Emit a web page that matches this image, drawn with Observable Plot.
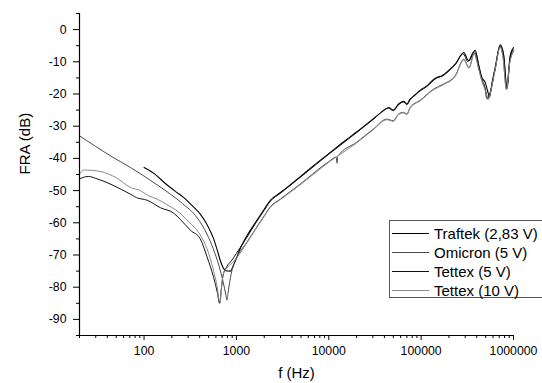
<!DOCTYPE html>
<html>
<head>
<meta charset="utf-8">
<script src="https://cdn.jsdelivr.net/npm/d3@7"></script>
<script src="https://cdn.jsdelivr.net/npm/@observablehq/plot@0.6"></script>
<style>
  html, body { margin: 0; padding: 0; background: #fff; }
  #wrap { position: relative; width: 542px; height: 383px; overflow: hidden; }
  #legend { position: absolute; left: 389px; top: 220px; width: 160px; height: 78px;
    border: 1px solid #555; background: #fff; box-sizing: border-box;
    font-family: "Liberation Sans", Arial, sans-serif; font-size: 15px; color: #000; }
  .row { position: absolute; left: 0; height: 19px; display: flex; align-items: center; white-space: nowrap; }
  .sw { width: 37px; height: 0; margin-left: 2px; margin-right: 5px; border-top: 1px solid #000; }
</style>
</head>
<body>
<div id="wrap"><div id="legend"></div></div>
<script>
// ---- data (frequency in Hz, FRA in dB) ----
const seriesNames = ["Traftek (2,83 V)", "Omicron (5 V)", "Tettex (5 V)", "Tettex (10 V)"];

const traftek = [
  [100,-42.8],[130,-44.8],[170,-47.8],[220,-50.3],[268,-52.1],[330,-54.6],[406,-57.3],[480,-60.5],
  [567,-65],[620,-68.5],[670,-71.8],[720,-74],[760,-74.9],[860,-75],[920,-73.5],[975,-71.8],
  [1100,-68],[1300,-64],[1600,-60],[2000,-55.8],[2330,-53],[3000,-50.6],[5000,-45.5],[7000,-42],
  [10000,-38.5],[15000,-34.5],[20000,-31.8],[30000,-27.8],[40000,-25],[44400,-24.2],[50000,-25],
  [57000,-23.1],[64500,-22.3],[70000,-23.1],[76000,-21.6],[86000,-20.3],[98000,-18.8],[115000,-17.5],
  [130000,-16],[148000,-14.9],[168000,-14.3],[206000,-12.3],[234000,-10.7],[290000,-7.1],[327000,-9.7],
  [385000,-6.4],[420000,-11],[455000,-14.9],[494000,-16.4],[524000,-19],[550000,-20.9],[590000,-16],
  [634000,-11.8],[718000,-4.7],[780000,-7.6],[849000,-18],[921000,-8.1],[1000000,-5.6]
];

const omicron = [
  [20,-33],[30,-36.3],[45,-39.5],[71,-42.8],[100,-45.5],[140,-48.3],[193,-51.1],[260,-54],
  [375,-58.4],[480,-63.5],[560,-68],[650,-73.5],[720,-78.5],[770,-82.5],[790,-84],[810,-82],
  [850,-78],[900,-74.5],[1000,-71],[1300,-66],[1600,-62],[2000,-57.8],[2330,-55],[3000,-52.6],
  [5000,-47.8],[10000,-41],[12000,-39.6],[12300,-41.5],[12500,-39.4],[20000,-35],[30000,-31],
  [42600,-27.8],[50000,-28.3],[57000,-26.2],[64500,-25.7],[70000,-26.2],[76000,-24.2],[98000,-21.9],
  [136000,-18.5],[175000,-16.9],[234000,-14.3],[290000,-9.2],[330000,-11.8],[375000,-7.3],
  [420000,-12],[455000,-15.8],[500000,-19],[530000,-21.5],[560000,-19.5],[634000,-12.2],
  [718000,-5.2],[770000,-8.5],[840000,-18.5],[900000,-11],[1000000,-6.6]
];

const tettex5 = [
  [20,-46.4],[22,-45.9],[25,-45.6],[30,-46.2],[45,-48.2],[71,-51.1],[87,-52.4],[95,-52.6],
  [108,-53],[150,-55.3],[209,-57],[248,-59],[317,-62.3],[406,-65],[480,-70.5],[567,-77],
  [620,-81.5],[658,-85],[690,-80],[715,-76.5],[780,-73.8],[900,-71.5],[1000,-69.5],[1300,-64.5],
  [1600,-60.3],[2000,-56.1],[2330,-53.3],[3000,-50.8],[5000,-45.7],[10000,-38.7],[20000,-32],
  [30000,-28],[44400,-24.4],[50000,-25.2],[57000,-23.3],[64500,-22.5],[70000,-23.3],[76000,-21.8],
  [98000,-19],[115000,-17.7],[148000,-15],[168000,-14.5],[206000,-12.5],[234000,-10.9],
  [285000,-7.5],[320000,-9.9],[375000,-6.8],[455000,-15.5],[490000,-17.8],[515000,-21.5],
  [545000,-20.5],[634000,-12],[718000,-5],[780000,-7.8],[849000,-18.3],[921000,-8.5],[1000000,-6.3]
];

const tettex10 = [
  [20,-44.9],[22.5,-43.6],[27,-43.7],[34,-44.1],[50,-46],[71,-49],[91,-50],[110,-51.5],
  [138,-52.6],[180,-54.5],[228,-56.3],[300,-59.5],[406,-63.8],[480,-68],[567,-75],[620,-80],
  [650,-84],[665,-84.5],[690,-80],[720,-76],[790,-74],[900,-72.5],[1000,-71],[1300,-66.2],
  [1600,-62.2],[2000,-58],[2330,-55.2],[3000,-52.8],[5000,-48],[10000,-41.2],[20000,-35.2],
  [30000,-31.2],[42600,-28],[50000,-28.5],[57000,-26.4],[64500,-25.9],[70000,-26.4],[76000,-24.4],
  [98000,-22.1],[136000,-18.7],[175000,-17.1],[234000,-14.5],[290000,-9.4],[330000,-12],
  [375000,-7.5],[420000,-12.3],[455000,-16],[500000,-19.3],[530000,-21.8],[560000,-19.8],
  [634000,-12.4],[718000,-5.4],[770000,-8.7],[840000,-18.7],[900000,-11.3],[1000000,-6.8]
];

const xMajorTicks = [100, 1000, 10000, 100000, 1000000];
const yMajorTicks = [-90, -80, -70, -60, -50, -40, -30, -20, -10, 0];

// ---- derived tick lists ----
const xMinorTicks = [];
for (let e = 1; e <= 5; e++) for (let m = 2; m <= 9; m++) {
  const v = m * Math.pow(10, e);
  if (v >= 20 && v <= 1e6) xMinorTicks.push(v);
}
const yMinorTicks = d3.range(-95, 6, 10);

const series = [
  {data: traftek, color: "#000000", width: 1.1},
  {data: omicron, color: "#4a4a4a", width: 1},
  {data: tettex5, color: "#111111", width: 1},
  {data: tettex10, color: "#8a8a8a", width: 1}
];

const chart = Plot.plot({
  width: 542,
  height: 383,
  marginLeft: 79,
  marginRight: 29,
  marginTop: 13,
  marginBottom: 48,
  style: {fontFamily: "'Liberation Sans', Arial, sans-serif", fontSize: "12.3px", color: "#000", background: "#fff", overflow: "visible"},
  x: {type: "log", domain: [20, 1e6]},
  y: {domain: [-95, 5]},
  marks: [
    ...series.map(s => Plot.line(s.data, {x: d => d[0], y: d => d[1], stroke: s.color, strokeWidth: s.width, curve: "monotone-x"})),
    Plot.ruleX([20], {stroke: "#000", strokeWidth: 1.2}),
    Plot.ruleY([-95], {stroke: "#000", strokeWidth: 1.2}),
    Plot.axisX({ticks: xMajorTicks, tickSize: 5, tickPadding: 6, tickFormat: d => String(d), label: null, fontSize: 12.3}),
    Plot.axisX({ticks: xMinorTicks, tickSize: 3, tickFormat: () => "", label: null}),
    Plot.axisY({ticks: yMajorTicks, tickSize: 6, tickPadding: 7, tickFormat: d => String(d), label: null}),
    Plot.axisY({ticks: yMinorTicks, tickSize: 3, tickFormat: () => "", label: null}),
    Plot.text(["f (Hz)"], {frameAnchor: "bottom", dy: 42, fontSize: 15}),
    Plot.text(["FRA (dB)"], {frameAnchor: "left", dx: -54, rotate: -90, fontSize: 15})
  ]
});

document.getElementById("wrap").prepend(chart);

// legend
const legend = document.getElementById("legend");
seriesNames.forEach((name, i) => {
  const row = document.createElement("div");
  row.className = "row";
  row.style.top = (3 + i * 19) + "px";
  const sw = document.createElement("span");
  sw.className = "sw";
  sw.style.borderTopColor = series[i].color;
  const tx = document.createElement("span");
  tx.textContent = name;
  row.appendChild(sw);
  row.appendChild(tx);
  legend.appendChild(row);
});
</script>
</body>
</html>
